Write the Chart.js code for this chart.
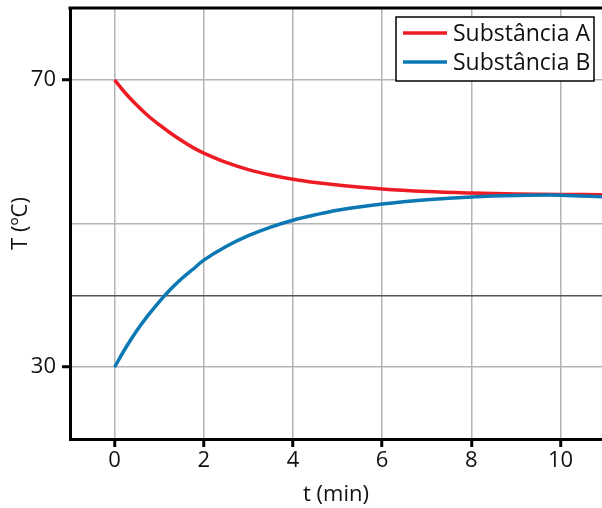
<!DOCTYPE html>
<html>
<head>
<meta charset="utf-8">
<script src="https://cdn.jsdelivr.net/npm/chart.js@4/dist/chart.umd.min.js"></script>
<style>
  html, body { margin: 0; padding: 0; background: #fff; overflow: hidden; }
  #wrap { position: relative; width: 602px; height: 508px; }
</style>
</head>
<body>
<div id="wrap"><canvas id="chart"></canvas></div>
<script>
// dados
const tempos = [0, 0.25, 0.5, 0.75, 1, 1.25, 1.5, 1.75, 2, 2.5, 3, 3.5, 4, 4.5, 5, 6, 7, 8, 9, 10, 11];
const substanciaA = [70, 68.1, 66.45, 65.0, 63.75, 62.6, 61.55, 60.6, 59.8, 58.5, 57.5, 56.75, 56.15, 55.7, 55.35, 54.8, 54.45, 54.25, 54.12, 54.05, 54.0];
const substanciaB = [30, 32.7, 35.1, 37.2, 39.1, 40.8, 42.3, 43.6, 44.9, 46.8, 48.3, 49.5, 50.45, 51.2, 51.85, 52.7, 53.3, 53.7, 53.9, 53.95, 53.7];
const xTicks = [0, 2, 4, 6, 8, 10];
const yTicks = [20, 30, 40, 50, 60, 70, 80];
const yLabels = [30, 70];

const FONT = "'Open Sans', sans-serif";
Chart.defaults.font.family = FONT;
Chart.defaults.color = '#111';

function pontos(ys) {
    return tempos.map((t, i) => ({ x: t, y: ys[i] }));
}

// borda superior + legenda em caixa
const extras = {
    id: 'extras',
    afterDatasetsDraw(chart) {
        const { ctx, chartArea } = chart;
        ctx.save();
        ctx.strokeStyle = '#000';
        ctx.lineWidth = 3;
        ctx.beginPath();
        ctx.moveTo(chartArea.left - 1.5, chartArea.top);
        ctx.lineTo(chartArea.right + 2, chartArea.top);
        ctx.stroke();

        // caixa da legenda
        const bx = 396, by = 17, bw = 198, bh = 64;
        ctx.fillStyle = '#fff';
        ctx.fillRect(bx, by, bw, bh);
        ctx.lineWidth = 1.5;
        ctx.strokeRect(bx, by, bw, bh);
        chart.data.datasets.forEach((ds, i) => {
            const y = 33 + i * 29;
            ctx.strokeStyle = ds.borderColor;
            ctx.lineWidth = 3.5;
            ctx.beginPath();
            ctx.moveTo(403, y);
            ctx.lineTo(447, y);
            ctx.stroke();
            ctx.fillStyle = '#111';
            ctx.font = '23px ' + FONT;
            ctx.textBaseline = 'middle';
            ctx.textAlign = 'left';
            ctx.fillText(ds.label, 453, y + 1);
        });
        ctx.restore();
    }
};

new Chart(document.getElementById('chart').getContext('2d'), {
    type: 'line',
    data: {
        datasets: [
            { label: 'Substância A', data: pontos(substanciaA), borderColor: '#ed1c24', borderWidth: 3.5, pointRadius: 0, tension: 0.35, order: 1 },
            { label: 'Substância B', data: pontos(substanciaB), borderColor: '#0b78b4', borderWidth: 3.5, pointRadius: 0, tension: 0.35, order: 0 }
        ]
    },
    options: {
        responsive: true,
        maintainAspectRatio: false,
        animation: false,
        layout: { padding: { top: 8, right: 0, left: 0, bottom: 0 } },
        plugins: { legend: { display: false }, tooltip: { enabled: false } },
        scales: {
            x: {
                type: 'linear',
                min: -1,
                max: 10.93,
                afterBuildTicks: s => { s.ticks = xTicks.map(v => ({ value: v })); },
                afterFit: s => { s.height = 69; s.paddingLeft = 0; s.paddingRight = 0; },
                border: { color: '#000', width: 3 },
                grid: { color: '#b4b4b4', lineWidth: 1.5, tickColor: '#000', tickWidth: 3, tickLength: 8 },
                ticks: { font: { size: 22 }, color: '#111', padding: 1, maxRotation: 0 },
                title: { display: true, text: 't (min)', font: { size: 22 }, color: '#111', padding: { top: 0, bottom: 0 } }
            },
            y: {
                min: 20,
                max: 80,
                afterBuildTicks: s => { s.ticks = yTicks.map(v => ({ value: v })); },
                afterFit: s => { s.width = 70; s.paddingTop = 0; s.paddingBottom = 0; },
                border: { color: '#000', width: 3 },
                grid: {
                    lineWidth: 1.5,
                    color: c => c.tick.value === 60 ? 'rgba(0,0,0,0)' : (c.tick.value === 40 ? '#555' : '#b4b4b4'),
                    tickColor: c => yLabels.includes(c.tick.value) ? '#000' : 'rgba(0,0,0,0)',
                    tickWidth: 3,
                    tickLength: 8
                },
                ticks: {
                    font: { size: 22 }, color: '#111', padding: 6,
                    callback: v => yLabels.includes(v) ? String(v) : ''
                },
                title: { display: true, text: 'T (ºC)', font: { size: 22 }, color: '#111', padding: { top: 8, bottom: 0 } }
            }
        }
    },
    plugins: [extras]
});
</script>
</body>
</html>
